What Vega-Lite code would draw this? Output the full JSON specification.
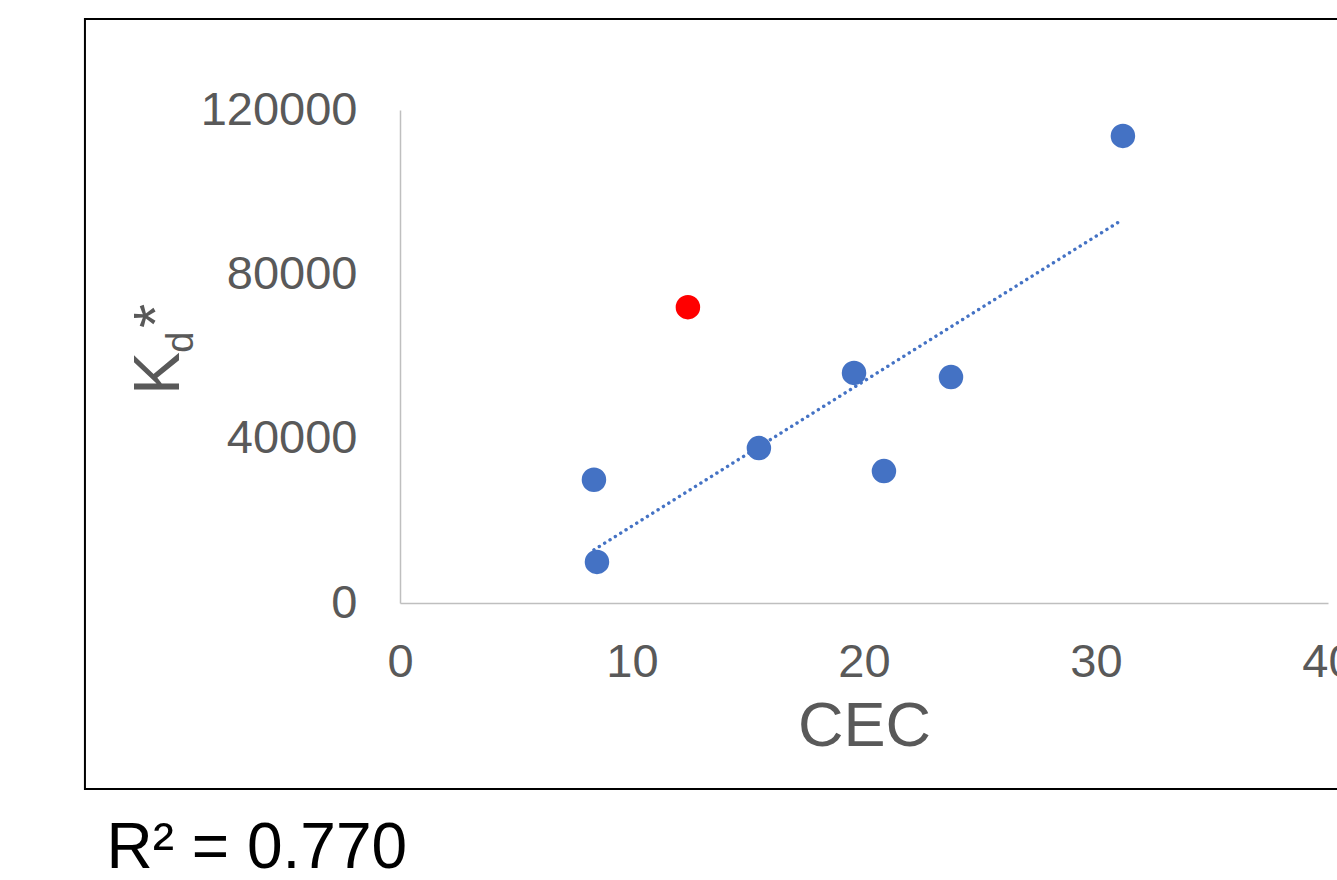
{
  "$schema": "https://vega.github.io/schema/vega-lite/v6.json",
  "autosize": {"type": "none"},
  "width": 928,
  "height": 493,
  "padding": {"left": 400, "top": 110, "right": 9, "bottom": 277},
  "background": "white",
  "datasets": {
    "points": [
      {"cec": 8.36, "kd": 30000, "grp": "fit"},
      {"cec": 8.49, "kd": 10000, "grp": "fit"},
      {"cec": 12.41, "kd": 72000, "grp": "outlier"},
      {"cec": 15.47, "kd": 37700, "grp": "fit"},
      {"cec": 19.57, "kd": 56000, "grp": "fit"},
      {"cec": 20.86, "kd": 32100, "grp": "fit"},
      {"cec": 23.75, "kd": 55000, "grp": "fit"},
      {"cec": 31.16, "kd": 113700, "grp": "fit"}
    ],
    "one": [{"r2": "R² = 0.770", "sub": "d", "star": "*"}]
  },
  "layer": [
    {
      "data": {"name": "one"},
      "mark": {"type": "rect", "filled": false, "stroke": "black", "strokeWidth": 2, "clip": false},
      "encoding": {
        "x": {"datum": -13.58, "type": "quantitative"},
        "x2": {"datum": 40.73},
        "y": {"datum": 142150, "type": "quantitative"},
        "y2": {"datum": -45270}
      }
    },
    {
      "data": {"name": "points"},
      "transform": [
        {"filter": "datum.grp === 'fit'"},
        {"regression": "kd", "on": "cec"}
      ],
      "mark": {"type": "line", "color": "#4472C4", "strokeWidth": 3.4, "strokeCap": "round", "strokeDash": [0.1, 6.2]},
      "encoding": {
        "x": {"field": "cec", "type": "quantitative"},
        "y": {"field": "kd", "type": "quantitative"}
      }
    },
    {
      "data": {"name": "points"},
      "mark": {"type": "circle", "size": 600, "opacity": 1},
      "encoding": {
        "x": {
          "field": "cec", "type": "quantitative",
          "scale": {"domain": [0, 40], "nice": false},
          "axis": {
            "title": "CEC", "values": [0, 10, 20, 30, 40], "format": "d",
            "labelFlush": false, "labelOverlap": false, "labelBound": false,
            "labelPadding": 36, "titleY": 142, "titleBaseline": "alphabetic",
            "titleFontSize": 63, "titleFontWeight": "normal"
          }
        },
        "y": {
          "field": "kd", "type": "quantitative",
          "scale": {"domain": [0, 120000], "nice": false},
          "axis": {
            "title": "K", "values": [0, 40000, 80000, 120000], "format": "d",
            "labelFlush": false, "labelOverlap": false,
            "labelPadding": 43, "titleX": -222, "titleY": 263, "titleAngle": -90,
            "titleAlign": "center", "titleBaseline": "alphabetic",
            "titleFontSize": 64, "titleFontWeight": "normal"
          }
        },
        "color": {
          "field": "grp", "type": "nominal",
          "scale": {"domain": ["fit", "outlier"], "range": ["#4472C4", "#FF0000"]},
          "legend": null
        }
      }
    },
    {
      "data": {"name": "one"},
      "mark": {"type": "text", "angle": -90, "align": "center", "baseline": "alphabetic", "fontSize": 38, "color": "#595959", "font": "Liberation Sans", "clip": false},
      "encoding": {
        "x": {"datum": -8.92, "type": "quantitative"},
        "y": {"datum": 63500, "type": "quantitative"},
        "text": {"field": "sub"}
      }
    },
    {
      "data": {"name": "one"},
      "mark": {"type": "text", "angle": -90, "align": "center", "baseline": "alphabetic", "fontSize": 62, "color": "#595959", "font": "Liberation Sans", "clip": false},
      "encoding": {
        "x": {"datum": -9.65, "type": "quantitative"},
        "y": {"datum": 69860, "type": "quantitative"},
        "text": {"field": "star"}
      }
    },
    {
      "data": {"name": "one"},
      "mark": {"type": "text", "align": "left", "baseline": "alphabetic", "fontSize": 64, "color": "black", "font": "Liberation Sans", "clip": false},
      "encoding": {
        "x": {"datum": -12.65, "type": "quantitative"},
        "y": {"datum": -64500, "type": "quantitative"},
        "text": {"field": "r2"}
      }
    }
  ],
  "config": {
    "view": {"stroke": null},
    "font": "Liberation Sans",
    "axis": {
      "domainColor": "#bfbfbf",
      "domainWidth": 1.5,
      "ticks": false,
      "grid": false,
      "labelColor": "#595959",
      "labelFont": "Liberation Sans",
      "labelFontSize": 47,
      "titleColor": "#595959",
      "titleFont": "Liberation Sans"
    }
  }
}
